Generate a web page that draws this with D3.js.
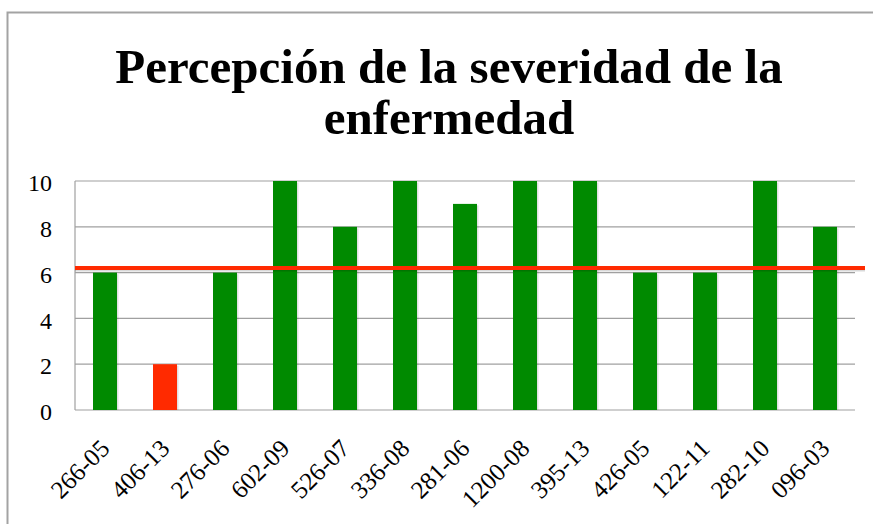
<!DOCTYPE html>
<html>
<head>
<meta charset="utf-8">
<script src="https://cdn.jsdelivr.net/npm/d3@7"></script>
<style>
  body { margin: 0; background: #fff; }
  svg { display: block; }
</style>
</head>
<body>
<div id="chart"></div>
<script>
// chart data
var codes = ["266-05", "406-13", "276-06", "602-09", "526-07", "336-08", "281-06",
             "1200-08", "395-13", "426-05", "122-11", "282-10", "096-03"];
var scores = [6, 2, 6, 10, 8, 10, 9, 10, 10, 6, 6, 10, 8];
var threshold = 6.2;
var redCutoff = 4; // bars below this are drawn red
var yTicks = [0, 2, 4, 6, 8, 10];
var titleLines = ["Percepción de la severidad de la", "enfermedad"];

var width = 873, height = 524;
var margin = { left: 75, right: 18, top: 181, bottom: 114 };
var serif = "'Liberation Serif', 'DejaVu Serif', serif";

var svg = d3.select("#chart").append("svg").attr("width", width).attr("height", height);

// outer frame (runs off right and bottom edges)
svg.append("rect").attr("x", 7.5).attr("y", 12.5).attr("width", 900).attr("height", 600)
    .attr("fill", "none").attr("stroke", "#a3a3a3").attr("stroke-width", 2);

// title
svg.append("g").selectAll("text").data(titleLines).enter().append("text")
    .attr("x", 449).attr("y", function (d, i) { return 83 + i * 51; })
    .attr("text-anchor", "middle")
    .style("font-family", serif)
    .style("font-weight", "bold").style("font-size", "49px")
    .text(function (d) { return d; });

var x = d3.scaleBand().domain(codes).range([margin.left, width - margin.right]).paddingInner(0.6).paddingOuter(0.3);
var y = d3.scaleLinear().domain([0, 10]).range([height - margin.bottom, margin.top]);

// gridlines
svg.append("g").selectAll("line").data(yTicks).enter().append("line")
    .attr("x1", margin.left).attr("x2", width - margin.right)
    .attr("y1", function (d) { return y(d); }).attr("y2", function (d) { return y(d); })
    .attr("stroke", "#a0a0a0").attr("stroke-width", 1.2);
// left axis line
svg.append("line").attr("x1", margin.left).attr("x2", margin.left)
    .attr("y1", y(10)).attr("y2", y(0)).attr("stroke", "#a0a0a0").attr("stroke-width", 1.2);

// y labels
var yAxis = d3.axisLeft(y).tickValues(yTicks).tickSize(0).tickPadding(23);
var yg = svg.append("g").attr("transform", "translate(" + margin.left + ",0)").call(yAxis);
yg.select(".domain").remove();
yg.selectAll("text").style("font-family", serif)
    .style("font-size", "24px").attr("fill", "#000").attr("dy", "0.4em");

// bar shadows
svg.append("g").selectAll("rect").data(scores).enter().append("rect")
    .attr("x", function (d, i) { return x(codes[i]) + 1.5; })
    .attr("y", function (d) { return y(d) + 1.5; })
    .attr("width", x.bandwidth())
    .attr("height", function (d) { return y(0) - y(d) - 1.5; })
    .attr("fill", "#000").attr("opacity", 0.12);

// bars
svg.append("g").selectAll("rect").data(scores).enter().append("rect")
    .attr("x", function (d, i) { return x(codes[i]); })
    .attr("y", function (d) { return y(d); })
    .attr("width", x.bandwidth())
    .attr("height", function (d) { return y(0) - y(d); })
    .attr("fill", function (d) { return d < redCutoff ? "#ff2a00" : "#008a00"; });

// threshold line
svg.append("line").attr("x1", margin.left).attr("x2", width - 8)
    .attr("y1", y(threshold) + 1.5).attr("y2", y(threshold) + 1.5)
    .attr("stroke", "#000").attr("stroke-opacity", 0.15).attr("stroke-width", 4);
svg.append("line").attr("x1", margin.left).attr("x2", width - 8)
    .attr("y1", y(threshold)).attr("y2", y(threshold))
    .attr("stroke", "#ff2a00").attr("stroke-width", 4);

// x labels
var xAxis = d3.axisBottom(x).tickSize(0).tickPadding(0);
var xg = svg.append("g").attr("transform", "translate(0," + y(0) + ")").call(xAxis);
xg.select(".domain").remove();
xg.selectAll("text")
    .style("font-family", serif)
    .style("font-size", "25px").attr("fill", "#000")
    .attr("text-anchor", "end").attr("dy", 0).attr("y", 0)
    .attr("transform", "translate(6,40) rotate(-45)");
</script>
</body>
</html>
